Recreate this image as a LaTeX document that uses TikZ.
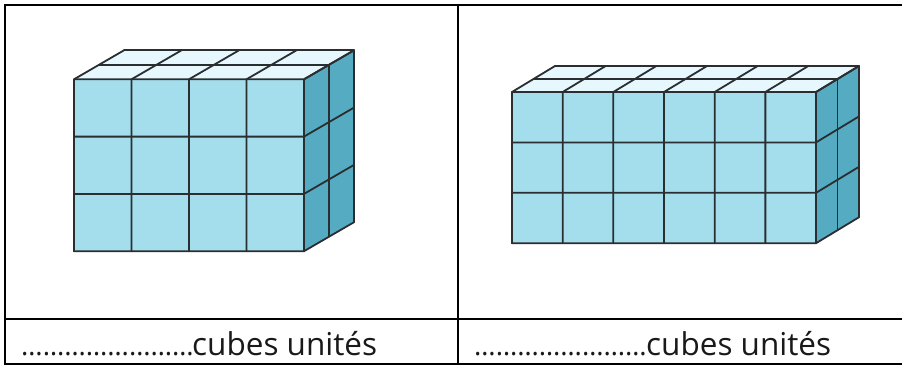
\documentclass[tikz,border=0pt]{standalone}
\usepackage{fontspec}
\setmainfont{Open Sans}
\definecolor{cubefront}{HTML}{A4DDEC}
\definecolor{cubeside}{HTML}{55ABC2}
\definecolor{cubetop}{HTML}{E6F8FD}
\definecolor{cubeline}{HTML}{2A2E30}
\tikzset{
  grid line/.style={draw=cubeline,line width=1.8pt,line cap=round,line join=round},
  table line/.style={draw=black,line width=2pt},
  caption/.style={anchor=base west,inner sep=0pt,font=\fontsize{27.5}{30}\selectfont,text=black!90},
  bigword/.style={anchor=base west,inner sep=0pt,font=\fontsize{31.5}{34}\selectfont,text=black!90}
}
% #1 x0, #2 y0, #3 column width, #4 row height, #5 columns, #6 rows, #7 depth dx, #8 depth dy (one of two cubes)
\newcommand{\cubeblock}[8]{%
  \pgfmathsetmacro{\xr}{#1+#3*#5}
  \pgfmathsetmacro{\yb}{#2+#4*#6}
  \fill[cubefront] (#1,#2) rectangle (\xr,\yb);
  \fill[cubetop] (#1,#2) -- ++(2*#7,-2*#8) -- ++(\xr-#1,0) -- (\xr,#2) -- cycle;
  \fill[cubeside] (\xr,#2) -- ++(2*#7,-2*#8) -- ++(0,\yb-#2) -- (\xr,\yb) -- cycle;
  \foreach \i in {0,...,#5}{
    \draw[grid line] ({#1+#3*\i},\yb) -- ({#1+#3*\i},#2) -- ++(2*#7,-2*#8);
  }
  \foreach \j in {0,...,#6}{
    \draw[grid line] (#1,{#2+#4*\j}) -- (\xr,{#2+#4*\j}) -- ++(2*#7,-2*#8);
  }
  \draw[grid line] (#1+2*#7,#2-2*#8) -- ++(\xr-#1,0) -- ++(0,\yb-#2);
  \draw[grid line] (#1+#7,#2-#8) -- ++(\xr-#1,0) -- ++(0,\yb-#2);
}
\begin{document}
\begin{tikzpicture}[x=1pt,y=-1pt]
\useasboundingbox (0,0) rectangle (902,367);
\fill[white] (0,0) rectangle (902,367);
\cubeblock{74}{79.3}{57.5}{57.3}{4}{3}{25}{14.5}
\cubeblock{512}{92}{50.67}{50.4}{6}{3}{21.5}{13}
\draw[table line] (902,5) -- (5,5) -- (5,364) -- (902,364);
\draw[table line] (5,318.7) -- (902,318.7);
\draw[table line] (458,5) -- (458,364);
\node[caption] (dotsa) at (21,355) {……………………};
\node[bigword] (capa) at (192,355) {cubes unités};
\node[caption] (dotsb) at (474,355) {……………………};
\node[bigword] (capb) at (646,355) {cubes unités};
\end{tikzpicture}
\end{document}
